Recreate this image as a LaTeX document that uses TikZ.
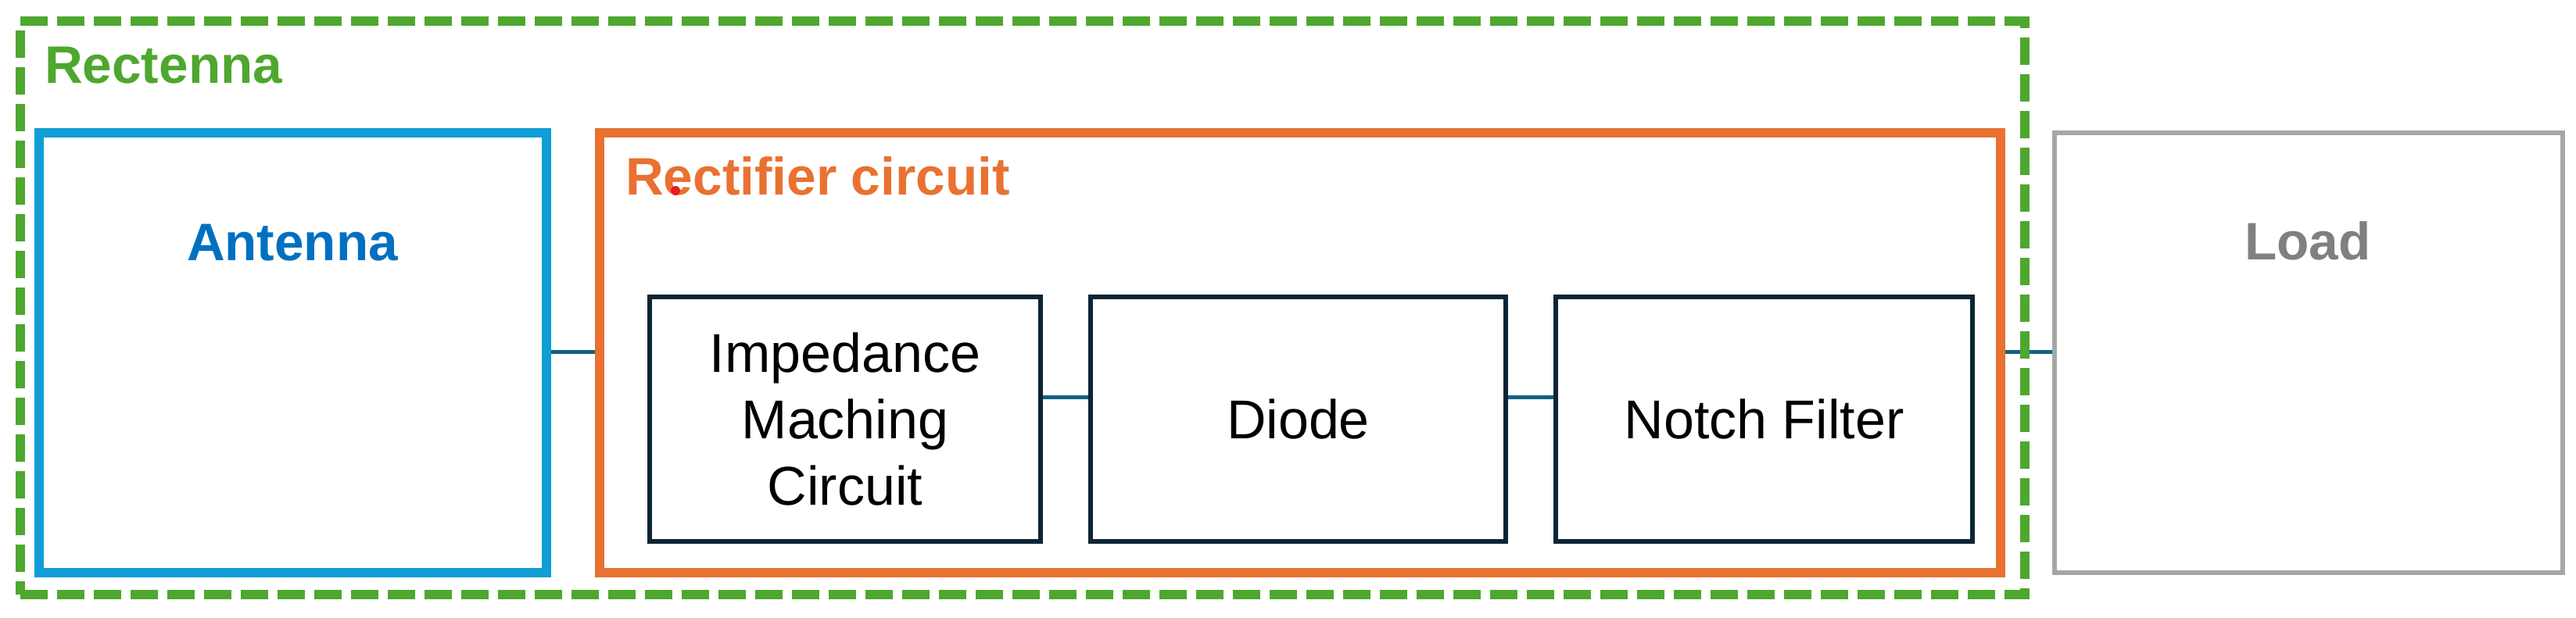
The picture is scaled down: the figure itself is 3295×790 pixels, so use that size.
\documentclass[tikz,border=0pt]{standalone}
\usepackage{fontspec}
\setmainfont{Liberation Sans}
\definecolor{rgreen}{HTML}{4EA72E}
\definecolor{antbox}{HTML}{0F9ED5}
\definecolor{anttext}{HTML}{0070C0}
\definecolor{rorange}{HTML}{E97132}
\definecolor{loadbox}{HTML}{A6A6A6}
\definecolor{loadtext}{HTML}{808080}
\definecolor{navy}{HTML}{0B2535}
\definecolor{conncol}{HTML}{156082}
\definecolor{dotred}{HTML}{E81E1E}
\begin{document}
\begin{tikzpicture}[x=1pt,y=-1pt,
  bigbox/.style={draw, line width=12pt, inner sep=0pt, minimum height=563pt},
  subbox/.style={draw=navy, line width=6pt, inner sep=0pt, minimum height=313pt, align=center,
    font=\fontsize{70}{85}\selectfont},
  title/.style={inner sep=0pt, font=\fontsize{67.5}{80}\selectfont\bfseries},
  conn/.style={draw=conncol, line width=5pt},
  greendash/.style={draw=rgreen, line width=12pt, dash pattern=on 35pt off 12pt, inner sep=0pt}]
\useasboundingbox (0,0) rectangle (3295,790);
% boxes
\node[bigbox, draw=antbox, minimum width=649pt] (ant) at (374.5,451.5) {};
\node[bigbox, draw=rorange, minimum width=1792pt] (rect) at (1663,451.5) {};
\node[bigbox, draw=loadbox, line width=6pt, minimum width=650pt] (load) at (2953,451.5) {};
\node[subbox, minimum width=500pt] (imp) at (1081,536.5) {Impedance\\Maching\\Circuit};
\node[subbox, minimum width=531pt] (diode) at (1660.5,536.5) {Diode};
\node[subbox, minimum width=533pt] (notch) at (2256.5,536.5) {Notch Filter};
% connectors
\draw[conn] (ant.east |- 0,450) -- (rect.west |- 0,450);
\draw[conn] (imp.east |- 0,508) -- (diode.west |- 0,508);
\draw[conn] (diode.east |- 0,508) -- (notch.west |- 0,508);
\draw[conn] (rect.east |- 0,450) -- (load.west |- 0,450);
% labels
\node[title, text=rgreen, anchor=base west] (rectlbl) at (57,106) {Rectenna};
\node[title, text=anttext, anchor=base] (antlbl) at (374,333) {Antenna};
\node[title, text=rorange, anchor=base west] (rectiflbl) at (800,249) {Rectifier circuit};
\node[title, text=loadtext, anchor=base] (loadlbl) at (2952,332) {Load};
\fill[dotred] (864,244) circle (6pt);
% rectenna dashed frame
\node[greendash, minimum width=2564.5pt, minimum height=734pt] (rectenna) at (1307.75,394) {};
\end{tikzpicture}
\end{document}
